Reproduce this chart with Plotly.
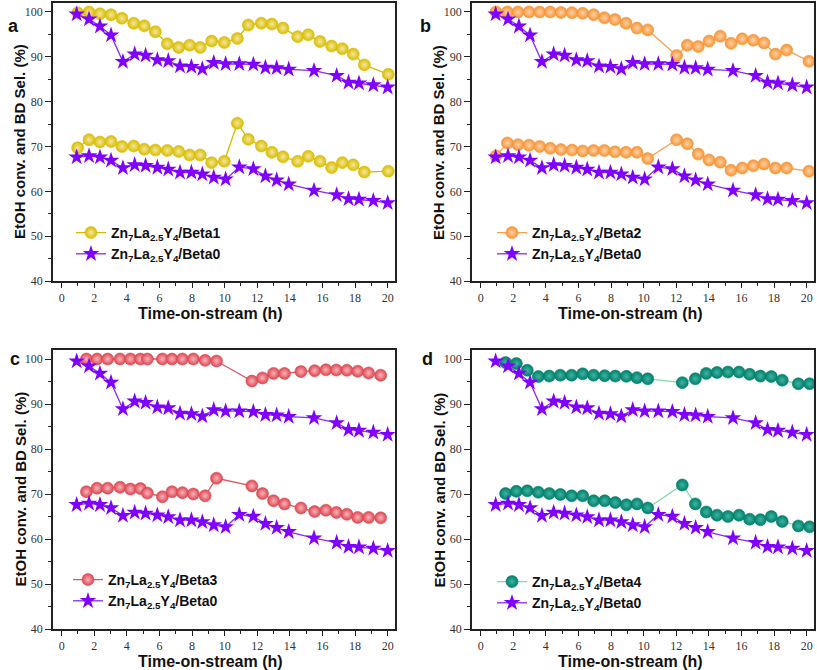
import plotly.graph_objects as go
from plotly.subplots import make_subplots

# Zn7La2.5Y4/Beta0 (same reference series in every panel)
t_beta0 = [0.92, 1.68, 2.35, 3.03, 3.76, 4.48, 5.15, 5.87, 6.54, 7.26, 7.96, 8.63, 9.33,
           10.06, 10.9, 11.76, 12.5, 13.19, 13.93, 15.48, 16.87, 17.6, 18.24, 19.12, 20.0]
conv_beta0 = [99.5, 98.4, 96.8, 94.8, 88.9, 90.6, 90.3, 89.3, 89.1, 87.9, 87.8, 87.3, 88.7,
              88.4, 88.4, 88.3, 87.6, 87.5, 87.2, 86.9, 85.8, 84.3, 84.1, 83.7, 83.2]
sel_beta0 = [67.6, 67.9, 67.6, 66.9, 65.2, 65.9, 65.7, 65.3, 64.9, 64.2, 64.2, 63.8, 63.1,
             62.7, 65.4, 65.0, 63.4, 62.5, 61.6, 60.2, 59.2, 58.3, 58.2, 57.9, 57.4]

# Zn7La2.5Y4/Beta1
t_beta1 = [0.98, 1.68, 2.35, 3.03, 3.7, 4.42, 5.07, 5.75, 6.48, 7.18, 7.85, 8.5, 9.2, 9.98,
           10.78, 11.45, 12.25, 12.9, 13.58, 14.48, 15.13, 15.85, 16.56, 17.22, 17.89, 18.57, 20.04]
conv_beta1 = [99.8, 100.0, 99.6, 99.4, 98.6, 97.5, 96.9, 95.6, 92.9, 92.1, 92.6, 92.1, 93.5, 93.2,
              94.1, 97.1, 97.5, 97.3, 96.4, 94.5, 94.9, 93.4, 92.4, 91.8, 90.6, 88.2, 86.1]
sel_beta1 = [69.7, 71.5, 71.0, 71.1, 70.0, 70.1, 69.4, 69.2, 69.1, 68.9, 68.1, 68.1, 66.4, 66.7,
             75.2, 71.6, 70.1, 68.7, 67.7, 66.7, 67.8, 66.7, 65.3, 66.4, 65.9, 64.3, 64.5]

# Zn7La2.5Y4/Beta2
t_beta2 = [0.94, 1.64, 2.29, 2.97, 3.62, 4.27, 4.93, 5.6, 6.26, 6.93, 7.59, 8.24, 8.92, 9.59,
           10.25, 12.02, 12.68, 13.35, 14.01, 14.7, 15.36, 16.05, 16.73, 17.38, 18.08, 18.77, 20.14]
conv_beta2 = [100.0, 100.0, 100.0, 100.0, 100.0, 100.0, 99.9, 99.85, 99.7, 99.4, 98.7, 98.3, 97.5, 96.4,
              96.0, 90.3, 92.6, 92.3, 93.5, 94.6, 93.0, 94.0, 93.7, 93.1, 90.6, 91.5, 89.0]
sel_beta2 = [67.9, 70.8, 70.4, 70.3, 70.0, 69.6, 69.3, 69.2, 69.0, 69.1, 69.1, 68.8, 68.7, 68.7,
             67.3, 71.5, 70.6, 68.3, 67.0, 66.5, 64.7, 65.2, 65.7, 66.1, 65.2, 65.2, 64.5]

# Zn7La2.5Y4/Beta3
t_beta3 = [1.52, 2.17, 2.82, 3.58, 4.22, 4.83, 5.26, 6.18, 6.77, 7.41, 8.08, 8.8, 9.5,
           11.67, 12.32, 13.0, 13.67, 14.68, 15.52, 16.21, 16.85, 17.5, 18.16, 18.83, 19.57]
conv_beta3 = [100.0, 100.0, 100.0, 100.0, 100.0, 100.0, 100.0, 100.0, 100.0, 100.0, 100.0, 99.7, 99.55,
              95.1, 95.8, 96.8, 96.8, 97.2, 97.4, 97.6, 97.55, 97.5, 97.3, 96.9, 96.4]
sel_beta3 = [70.5, 71.3, 71.3, 71.5, 71.1, 71.2, 70.2, 69.4, 70.5, 70.3, 70.0, 69.6, 73.5,
             71.8, 70.1, 68.5, 67.8, 66.9, 66.1, 66.4, 65.9, 65.5, 64.8, 64.8, 64.7]

# Zn7La2.5Y4/Beta4
t_beta4 = [1.53, 2.19, 2.86, 3.54, 4.21, 4.89, 5.58, 6.26, 6.93, 7.61, 8.26, 8.94, 9.59,
           10.25, 12.37, 13.17, 13.84, 14.5, 15.17, 15.85, 16.5, 17.16, 17.83, 18.5, 19.49, 20.18]
conv_beta4 = [99.2, 99.0, 97.5, 96.1, 96.2, 96.4, 96.4, 96.7, 96.4, 96.3, 96.2, 96.15, 95.85,
              95.6, 94.75, 95.6, 96.8, 97.0, 97.1, 97.1, 96.6, 96.2, 96.1, 95.3, 94.5, 94.5]
sel_beta4 = [70.1, 70.6, 70.7, 70.4, 70.1, 69.9, 69.6, 69.6, 68.5, 68.5, 68.1, 67.6, 67.8,
             66.9, 72.0, 67.8, 66.0, 65.3, 65.0, 65.3, 64.4, 64.3, 65.0, 63.9, 62.9, 62.7]

panels = [
    ("a", "Beta1", t_beta1, conv_beta1, sel_beta1, "#D9BD00", "#F3E6A0", "#D6BA00"),
    ("b", "Beta2", t_beta2, conv_beta2, sel_beta2, "#F69435", "#FFD2A8", "#F6A050"),
    ("c", "Beta3", t_beta3, conv_beta3, sel_beta3, "#DE4650", "#F8B4BC", "#E05460"),
    ("d", "Beta4", t_beta4, conv_beta4, sel_beta4, "#00806C", "#3FB3A0", "#84D9AC"),
]

SANS = "Liberation Sans, Arial, sans-serif"
SERIF = "Liberation Serif, Times New Roman, serif"
PURPLE = "#8000FF"
W, H = 817, 670


def label(name):
    return "<b>Zn<sub>7</sub>La<sub>2.5</sub>Y<sub>4</sub>/" + name + "</b>"


fig = make_subplots(rows=2, cols=2)

# layout positions in canvas pixels
xdom = [[53, 395], [472, 814]]
ydom = [[3, 281], [350, 629]]
legend_px = [(71, 217), (492, 217), (68, 564), (492, 566)]
letter_px = [(6, 14), (425, 14), (8, 359), (428, 359)]
ytitle_x = [20, 439]
xtitle_cx = [210, 630]
xtitle_y = [313, 661]

for i, (letter, name, t, conv, sel, col, hi, lcol) in enumerate(panels):
    r, c = i // 2 + 1, i % 2 + 1
    leg = "legend" if i == 0 else "legend%d" % (i + 1)
    sphere = dict(symbol="circle", size=12, color=col,
                  gradient=dict(type="radial", color=hi),
                  line=dict(width=0.6, color=col))
    star = dict(symbol="star", size=12.5, color=PURPLE, line=dict(width=0))
    for k, yv in enumerate([conv, sel]):
        fig.add_trace(go.Scatter(x=t, y=yv, mode="lines+markers", name=label(name),
                                 line=dict(color=lcol, width=1.3), marker=sphere,
                                 legend=leg, showlegend=(k == 0), legendgroup=name),
                      row=r, col=c)
    for k, yv in enumerate([conv_beta0, sel_beta0]):
        fig.add_trace(go.Scatter(x=t_beta0, y=yv, mode="lines+markers", name=label("Beta0"),
                                 line=dict(color="#8A2BF5", width=1.3), marker=star,
                                 legend=leg, showlegend=(k == 0), legendgroup="b0"),
                      row=r, col=c)

    x0, x1 = xdom[c - 1]
    y0, y1 = ydom[r - 1]
    fig.update_xaxes(domain=[x0 / W, x1 / W], range=[-0.53, 20.45], dtick=2, tick0=0,
                     ticks="outside", ticklen=5, tickwidth=1.2, tickcolor="#222",
                     minor=dict(dtick=1, ticks="outside", ticklen=3, tickcolor="#222"),
                     showline=True, mirror=True, linecolor="#222", linewidth=1.5,
                     showgrid=False, zeroline=False, automargin=False,
                     tickfont=dict(family=SERIF, size=12, color="#333"),
                     row=r, col=c)
    fig.update_yaxes(domain=[1 - y1 / H, 1 - y0 / H], range=[40, 102], dtick=10, tick0=0,
                     ticks="outside", ticklen=6, tickwidth=1.2, tickcolor="#222",
                     minor=dict(dtick=5, ticks="outside", ticklen=3, tickcolor="#222"),
                     showline=True, mirror=True, linecolor="#222", linewidth=1.5,
                     showgrid=False, zeroline=False, automargin=False,
                     tickfont=dict(family=SERIF, size=12, color="#333"),
                     row=r, col=c)

    # axis titles
    fig.add_annotation(text="<b>EtOH conv. and BD Sel. (%)</b>", textangle=-90,
                       x=ytitle_x[c - 1] / W, y=1 - (y0 + y1) / 2 / H,
                       xref="paper", yref="paper", showarrow=False,
                       xanchor="center", yanchor="middle",
                       font=dict(family=SANS, size=15, color="#111"))
    fig.add_annotation(text="<b>Time-on-stream (h)</b>",
                       x=xtitle_cx[c - 1] / W, y=1 - xtitle_y[r - 1] / H,
                       xref="paper", yref="paper", showarrow=False,
                       xanchor="center", yanchor="middle",
                       font=dict(family=SANS, size=16, color="#111"))

    lx, ly = legend_px[i]
    fig.update_layout({leg: dict(x=lx / W, y=1 - ly / H, xanchor="left", yanchor="top",
                                 bgcolor="rgba(0,0,0,0)", tracegroupgap=0,
                                 font=dict(family=SANS, size=14, color="#111"))})

    px_, py_ = letter_px[i]
    fig.add_annotation(text="<b>%s</b>" % letter, x=px_ / W, y=1 - py_ / H,
                       xref="paper", yref="paper", showarrow=False,
                       font=dict(family=SANS, size=18, color="#111"))

fig.update_layout(width=W, height=H, margin=dict(l=0, r=0, t=0, b=0),
                  plot_bgcolor="white", paper_bgcolor="white")

# drop the default page margin so the 817x670 figure fills the window
fig.write_html("out.html", config={"displayModeBar": False},
               post_script="document.body.style.margin='0';document.body.style.overflow='hidden';")
